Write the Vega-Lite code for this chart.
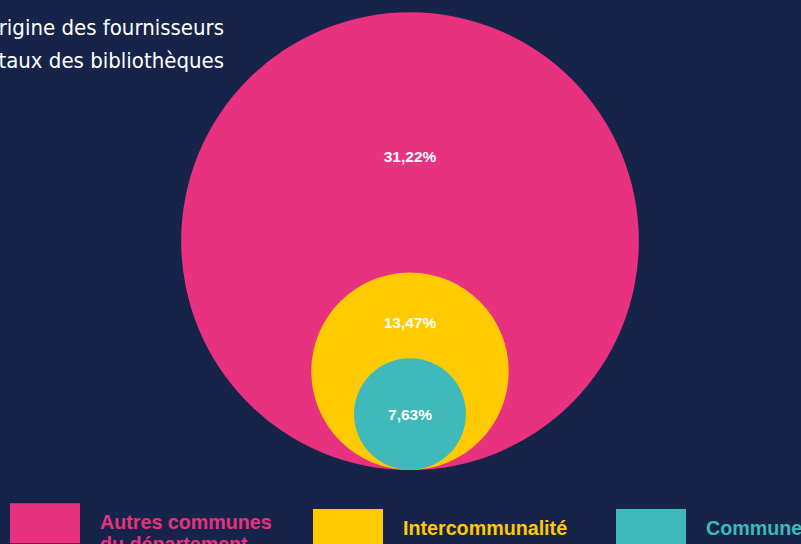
{
  "$schema": "https://vega.github.io/schema/vega-lite/v6.json",
  "width": 801,
  "height": 544,
  "autosize": {"type": "none"},
  "padding": 0,
  "background": "#172449",
  "config": {"view": {"stroke": null}},
  "data": {"values": [
    {"categorie": "Autres communes du département", "part": 31.22, "label": "31,22%"},
    {"categorie": "Intercommunalité", "part": 13.47, "label": "13,47%"},
    {"categorie": "Commune", "part": 7.63, "label": "7,63%"}
  ]},
  "encoding": {
    "x": {"datum": 0, "type": "quantitative", "scale": {"domain": [-410, 391], "nice": false, "zero": false}, "axis": null},
    "y": {"field": "part", "type": "quantitative", "scale": {"domain": [-10.096, 64.12], "nice": false, "zero": false}, "axis": null}
  },
  "layer": [
    {
      "mark": {"type": "point", "filled": true, "opacity": 1, "strokeWidth": 0},
      "encoding": {
        "size": {"field": "part", "type": "quantitative", "scale": {"type": "pow", "exponent": 2, "domain": [0, 31.22], "range": [0, 209470]}, "legend": null},
        "color": {
          "field": "categorie", "type": "nominal",
          "scale": {"domain": ["Autres communes du département", "Intercommunalité", "Commune"], "range": ["#e8317f", "#ffcb00", "#3fb9b9"]},
          "legend": {
            "orient": "none", "legendX": 10, "legendY": 488, "direction": "horizontal", "columns": 3,
            "title": null, "padding": 0,
            "symbolType": "M-1,-0.5714H1V0.5714H-1Z", "symbolSize": 4900, "symbolStrokeWidth": 0, "symbolOpacity": 1,
            "labelFont": "Liberation Sans", "labelFontSize": 19.7, "labelFontWeight": "bold", "labelLimit": 400,
            "labelOffset": 20, "columnPadding": 41, "gridAlign": "all",
            "labelExpr": "datum.label == 'Autres communes du département' ? ['Autres communes', 'du département'] : datum.label",
            "encode": {"labels": {"update": {"fill": {"scale": "color", "field": "value"}, "lineHeight": {"value": 22}}}}
          }
        }
      }
    },
    {
      "transform": [{"filter": "datum.part > 30"}],
      "mark": {"type": "text", "color": "white", "font": "Liberation Sans", "fontWeight": "bold", "fontSize": 15.5, "baseline": "middle", "dy": -84},
      "encoding": {"text": {"field": "label"}}
    },
    {
      "transform": [{"filter": "datum.part > 10 && datum.part < 30"}],
      "mark": {"type": "text", "color": "white", "font": "Liberation Sans", "fontWeight": "bold", "fontSize": 15.5, "baseline": "middle", "dy": -48},
      "encoding": {"text": {"field": "label"}}
    },
    {
      "transform": [{"filter": "datum.part < 10"}],
      "mark": {"type": "text", "color": "white", "font": "Liberation Sans", "fontWeight": "bold", "fontSize": 15.5, "baseline": "middle", "dy": 1},
      "encoding": {"text": {"field": "label"}}
    },
    {
      "transform": [{"filter": "datum.part > 30"}],
      "mark": {"type": "text", "color": "white", "font": "DejaVu Sans Condensed, Roboto, sans-serif", "fontSize": 22, "align": "right", "baseline": "alphabetic", "lineHeight": 33},
      "encoding": {
        "x": {"datum": -186, "type": "quantitative"},
        "y": {"datum": 59.35, "type": "quantitative"},
        "text": {"value": ["Origine des fournisseurs", "digitaux des bibliothèques"]}
      }
    }
  ]
}
